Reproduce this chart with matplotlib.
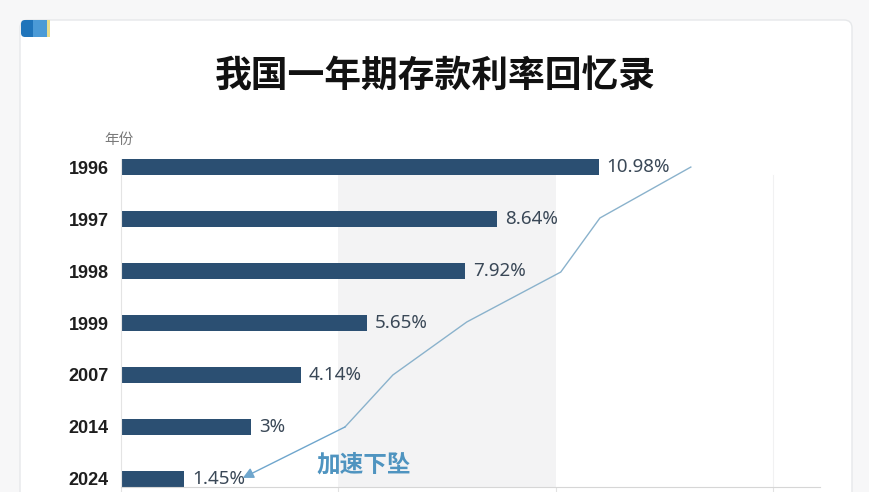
import matplotlib
matplotlib.use("Agg")
import matplotlib.pyplot as plt
from matplotlib.patches import FancyBboxPatch, Rectangle

plt.rcParams['font.family'] = ['Noto Sans', 'Noto Sans CJK SC', 'DejaVu Sans']

# ---- data ----
years = ["1996", "1997", "1998", "1999", "2007", "2014", "2024"]
rates = [10.98, 8.64, 7.92, 5.65, 4.14, 3.00, 1.45]
rate_labels = ["10.98%", "8.64%", "7.92%", "5.65%", "4.14%", "3%", "1.45%"]
# decorative trend arrow (in data units)
trend_x = [13.10, 11.01, 10.11, 7.95, 6.25, 5.15, 2.80]
trend_y = [0.0, 0.98, 2.02, 2.98, 4.0, 5.0, 5.98]
title = "我国一年期存款利率回忆录"
y_axis_name = "年份"
trend_text = "加速下坠"

W, H = 870, 492
fig = plt.figure(figsize=(W / 100, H / 100), dpi=100)
fig.patch.set_facecolor('#f7f7f8')

# background / card layer in pixel coordinates
bg = fig.add_axes([0, 0, 1, 1], zorder=-5)
bg.set_xlim(0, W)
bg.set_ylim(H, 0)
bg.axis('off')
card = FancyBboxPatch((20, 20), 832, 500, boxstyle="round,pad=0,rounding_size=8",
                      facecolor='white', edgecolor='#e6e8ea', linewidth=1.0)
bg.add_patch(card)
# tab at top-left
tab = FancyBboxPatch((21, 20), 29, 17, boxstyle="round,pad=0,rounding_size=4",
                     facecolor='#1f74ba', edgecolor='none')
bg.add_patch(tab)
bg.add_patch(Rectangle((33, 20), 14, 17, facecolor='#4b9ad6', edgecolor='none'))
bg.add_patch(Rectangle((47, 20), 3, 17, facecolor='#e8dc8c', edgecolor='none'))

bg.text(435, 76, title, ha='center', va='center', fontsize=26.5, fontweight='bold',
        color='#111111', family=['Noto Sans CJK SC'])
bg.text(119, 140, y_axis_name, ha='center', va='center', fontsize=10.5,
        color='#7a7a7a', family=['Noto Sans CJK SC'])

# main axes
left_px, right_px, top_px, bot_px = 121, 820, 159, 487
ax = fig.add_axes([left_px / W, 1 - bot_px / H, (right_px - left_px) / W, (bot_px - top_px) / H])
ax.set_facecolor('none')
n = len(years)
pos = list(range(n))
bar_h = 0.31
ax.set_xlim(0, 16.07)
ax.set_ylim(n - 1 + bar_h / 2, -bar_h / 2)

# alternating band and faint grid
ax.fill_betweenx([bar_h / 2, n - 1 + bar_h / 2], 5, 10, color='#f3f3f4', zorder=0, linewidth=0)
ax.plot([15, 15], [bar_h / 2, n - 1 + bar_h / 2], color='#f1f1f2', linewidth=0.8, zorder=0)

ax.barh(pos, rates, height=bar_h, color='#2b4f72', zorder=2)
for p, r, lab in zip(pos, rates, rate_labels):
    ax.text(r + 0.18, p, lab, ha='left', va='center', fontsize=13.5, color='#3a4857', zorder=3)

ax.set_yticks(pos)
ax.set_yticklabels(years, fontsize=13, fontweight='bold', color='#1e1e1e',
                   family=['Liberation Sans'])
ax.tick_params(axis='y', length=0, pad=9)
ax.set_xticks([0, 5, 10, 15])
ax.set_xticklabels([])
ax.tick_params(axis='x', length=4, color='#e2e2e2')
for s in ('top', 'right'):
    ax.spines[s].set_visible(False)
ax.spines['left'].set_color('#e4e4e4')
ax.spines['bottom'].set_color('#d6d6d6')

# trend arrow
ax.plot(trend_x[:-1], trend_y[:-1], color='#8ab2cc', linewidth=1.0, zorder=4, clip_on=False)
ax.annotate('', xy=(trend_x[-1], trend_y[-1]), xytext=(trend_x[-2], trend_y[-2]),
            arrowprops=dict(arrowstyle='-|>', color='#6fa6cd', lw=1.0, mutation_scale=16,
                            shrinkA=0, shrinkB=0), zorder=4)
ax.text(5.59, 5.72, trend_text, ha='center', va='center', fontsize=17,
        color='#4f94c0', family=['Noto Sans CJK SC'], fontweight='bold', zorder=4)

fig.savefig('out.png', dpi=100, facecolor=fig.get_facecolor())
